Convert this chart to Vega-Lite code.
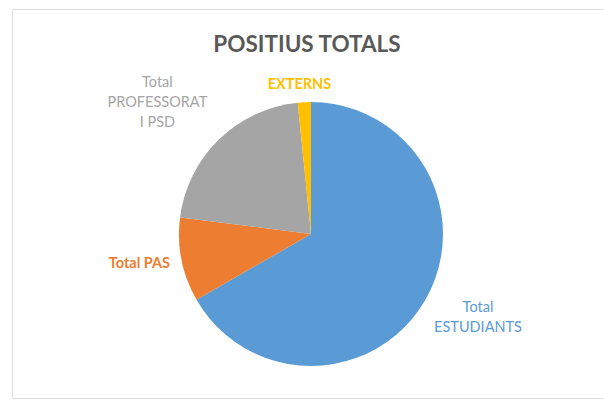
{
  "$schema": "https://vega.github.io/schema/vega-lite/v6.json",
  "width": 600,
  "height": 389,
  "autosize": "none",
  "padding": {"left": 12, "top": 9, "right": 0, "bottom": 5},
  "background": "white",
  "config": {"view": {"stroke": "#dcdcdc", "strokeWidth": 1}},
  "view": {"stroke": "#dcdcdc", "strokeWidth": 1},
  "title": {
    "text": "POSITIUS TOTALS",
    "font": "Lato",
    "fontSize": 22.5,
    "fontWeight": "bold",
    "color": "#595959",
    "anchor": "middle",
    "frame": "group",
    "baseline": "middle",
    "offset": -58,
    "dx": -5
  },
  "data": {
    "values": [
      {"idx": 1, "cat": "Total ESTUDIANTS", "label": "Total\nESTUDIANTS", "value": 66.7},
      {"idx": 2, "cat": "Total PAS", "label": "Total PAS", "value": 10.3},
      {"idx": 3, "cat": "Total PROFESSORAT I PSD", "label": "Total\nPROFESSORAT\nI PSD", "value": 21.4},
      {"idx": 4, "cat": "EXTERNS", "label": "EXTERNS", "value": 1.6}
    ]
  },
  "encoding": {
    "theta": {"field": "value", "type": "quantitative", "stack": true},
    "order": {"field": "idx", "type": "quantitative"},
    "color": {
      "field": "cat",
      "type": "nominal",
      "scale": {
        "domain": ["Total ESTUDIANTS", "Total PAS", "Total PROFESSORAT I PSD", "EXTERNS"],
        "range": ["#5b9bd5", "#ed7d31", "#a5a5a5", "#ffc000"]
      },
      "legend": null
    }
  },
  "layer": [
    {"mark": {"type": "arc", "outerRadius": 132, "xOffset": -1, "yOffset": 30.5}},
    {
      "mark": {"type": "text", "radius": 186, "xOffset": -1, "yOffset": 30.5, "dx": 6, "dy": -19, "lineBreak": "\n", "lineHeight": 20, "font": "Lato", "fontSize": 14.5, "align": "center", "baseline": "middle"},
      "encoding": {"text": {"condition": {"test": "datum.idx == 1", "field": "label"}, "value": ""}}
    },
    {
      "mark": {"type": "text", "radius": 175, "xOffset": -1, "yOffset": 30.5, "dx": 0, "dy": -4, "lineBreak": "\n", "lineHeight": 20, "font": "Lato", "fontSize": 14.5, "fontWeight": "bold", "align": "center", "baseline": "middle"},
      "encoding": {"text": {"condition": {"test": "datum.idx == 2", "field": "label"}, "value": ""}}
    },
    {
      "mark": {"type": "text", "radius": 200, "xOffset": -1, "yOffset": 30.5, "dx": -14, "dy": -8, "lineBreak": "\n", "lineHeight": 20, "font": "Lato", "fontSize": 14.5, "align": "center", "baseline": "middle"},
      "encoding": {"text": {"condition": {"test": "datum.idx == 3", "field": "label"}, "value": ""}}
    },
    {
      "mark": {"type": "text", "radius": 151, "xOffset": -1, "yOffset": 30.5, "dx": -4, "dy": 2, "lineBreak": "\n", "lineHeight": 20, "font": "Lato", "fontSize": 14.5, "fontWeight": "bold", "align": "center", "baseline": "middle"},
      "encoding": {"text": {"condition": {"test": "datum.idx == 4", "field": "label"}, "value": ""}}
    }
  ]
}
